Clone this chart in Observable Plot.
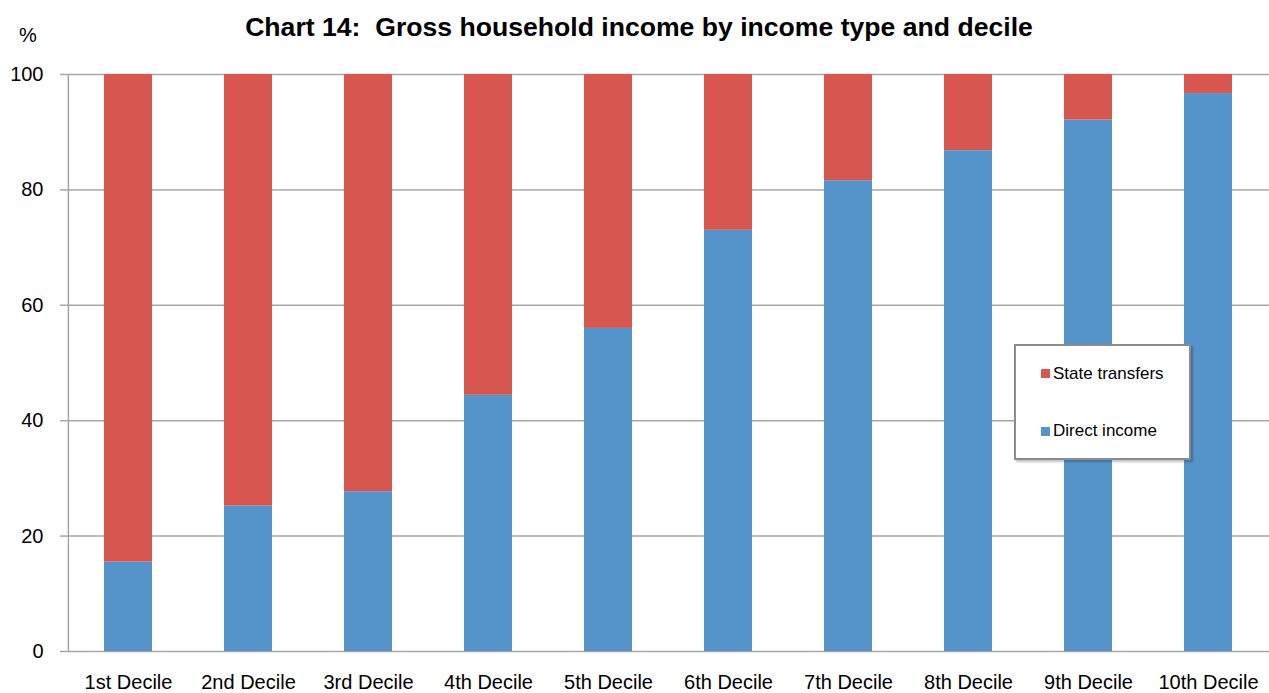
<!DOCTYPE html>
<html>
<head>
<meta charset="utf-8">
<script src="https://cdn.jsdelivr.net/npm/d3@7"></script>
<script src="https://cdn.jsdelivr.net/npm/@observablehq/plot@0.6"></script>
<style>
  html, body { margin: 0; padding: 0; background: #fff; }
  body { font-family: "Liberation Sans", Arial, sans-serif; }
  #wrap { position: relative; width: 1269px; height: 693px; overflow: hidden; }
  #title { position: absolute; left: 4.5px; top: 14.3px; width: 1269px; text-align: center; font-weight: bold; font-size: 26.6px; line-height: 26.6px; color: #000; white-space: nowrap; }
  #pct { position: absolute; left: 19px; top: 25px; font-size: 20px; line-height: 20px; color: #000; }
  #legend { position: absolute; left: 1014px; top: 344px; width: 173px; height: 112px; border: 2px solid #8c8c8c; background: #fff; box-shadow: 2px 2px 2px rgba(0,0,0,0.25); }
  .sw { position: absolute; width: 9px; height: 9px; left: 25px; }
  .lt { position: absolute; left: 37px; font-size: 17px; line-height: 17px; color: #000; white-space: nowrap; }
  #chart { position: absolute; left: 0; top: 0; }
</style>
</head>
<body>
<div id="wrap">
  <div id="chart"></div>
  <div id="title">Chart 14:&nbsp; Gross household income by income type and decile</div>
  <div id="pct">%</div>
  <div id="legend"></div>
</div>
<script>
const deciles = ["1st Decile", "2nd Decile", "3rd Decile", "4th Decile", "5th Decile", "6th Decile", "7th Decile", "8th Decile", "9th Decile", "10th Decile"];
const directIncome = [15.5, 25.2, 27.7, 44.4, 56.0, 73.0, 81.6, 86.8, 92.1, 96.7];
const stateTransfers = [84.5, 74.8, 72.3, 55.6, 44.0, 27.0, 18.4, 13.2, 7.9, 3.3];
const seriesNames = ["Direct income", "State transfers"];
const seriesColors = ["#5593CB", "#D75650"];
const yTicks = [0, 20, 40, 60, 80, 100];

const data = [];
deciles.forEach((d, i) => {
  data.push({decile: d, type: seriesNames[0], value: directIncome[i]});
  data.push({decile: d, type: seriesNames[1], value: stateTransfers[i]});
});

const W = 1269, H = 693, mL = 67, mR = 0, mT = 74, mB = 42;
const step = (W - mL - mR) / 10;
const grid = "#a6a6a6";

const chart = Plot.plot({
  width: W,
  height: H,
  marginLeft: mL,
  marginRight: mR,
  marginTop: mT,
  marginBottom: mB,
  style: { fontFamily: "'Liberation Sans', Arial, sans-serif", fontSize: "20px", color: "#000", background: "#fff" },
  x: { domain: deciles, paddingInner: 0.6, paddingOuter: 0.3, label: null },
  y: { domain: [0, 100], label: null },
  color: { domain: seriesNames, range: seriesColors },
  marks: [
    Plot.ruleY(yTicks, { stroke: grid, strokeWidth: 1.5 }),
    Plot.barY(data, { x: "decile", y: "value", fill: "type" }),
    Plot.ruleX([deciles[0]], { dx: -step / 2, stroke: grid, strokeWidth: 1.5 }),
    Plot.axisY({ ticks: yTicks, tickSize: 7, tickPadding: 17, stroke: grid, strokeWidth: 1.5, fill: "#000", label: null }),
    Plot.axisX({ tickSize: 0, tickPadding: 23, fill: "#000", label: null })
  ]
});
document.getElementById("chart").appendChild(chart);

const legend = document.getElementById("legend");
const items = [
  { name: seriesNames[1], color: seriesColors[1], sq: 23, tx: 18.6 },
  { name: seriesNames[0], color: seriesColors[0], sq: 81, tx: 76 }
];
items.forEach(it => {
  const s = document.createElement("div");
  s.className = "sw"; s.style.top = it.sq + "px"; s.style.background = it.color;
  legend.appendChild(s);
  const t = document.createElement("div");
  t.className = "lt"; t.style.top = it.tx + "px"; t.textContent = it.name;
  legend.appendChild(t);
});
</script>
</body>
</html>
